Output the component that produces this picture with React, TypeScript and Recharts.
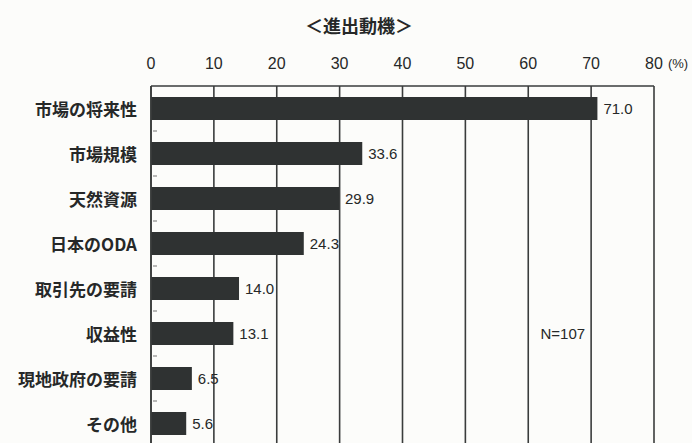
import { BarChart, Bar, XAxis, YAxis, CartesianGrid, LabelList, ReferenceDot, Customized } from "recharts";

const categories = ["市場の将来性", "市場規模", "天然資源", "日本のODA", "取引先の要請", "収益性", "現地政府の要請", "その他"];
const shares = [71.0, 33.6, 29.9, 24.3, 14.0, 13.1, 6.5, 5.6];
const xTicks = [0, 10, 20, 30, 40, 50, 60, 70, 80];
const chartTitle = "＜進出動機＞";
const unitLabel = "(%)";
const sampleNote = "N=107";

const data = categories.map((name, i) => ({ name, value: shares[i] }));

const INK = "#262828";
const LINE = "#3a3c3c";
const NARROW = '"Liberation Sans Narrow", "Arial Narrow", "Liberation Sans", sans-serif';
const JP = '"Noto Sans CJK JP", "Noto Sans", sans-serif';

// category label plus a short inward mark on the axis between bands
function CategoryTick(props: any) {
  const { x, y, payload, index } = props;
  const half = payload?.offset ?? 22;
  const axisX = x + 14;
  return (
    <g>
      <text x={x} y={y} textAnchor="end" dominantBaseline="central" fill={INK} fontFamily={JP} fontWeight={700} fontSize={17}>
        {payload.value}
      </text>
      {index < categories.length - 1 && (
        <line x1={axisX + 2} x2={axisX + 6} y1={y + half} y2={y + half} stroke="#8a8a8a" strokeWidth={1.2} />
      )}
    </g>
  );
}

function Extras() {
  return (
    <g>
      <text x={359} y={25} textAnchor="middle" dominantBaseline="central" fill={INK} fontFamily={JP} fontWeight={700} fontSize={18}>
        {chartTitle}
      </text>
      <text x={678} y={63} textAnchor="middle" dominantBaseline="central" fill={INK} fontFamily={NARROW} fontSize={13}>
        {unitLabel}
      </text>
    </g>
  );
}

export default function App() {
  return (
    <div style={{ position: "absolute", left: 0, top: 0, width: 692, height: 443, overflow: "hidden", background: "#fcfcfa" }}>
      <BarChart
        width={692}
        height={460}
        data={data}
        layout="vertical"
        margin={{ top: 56, right: 38, left: 11, bottom: 14 }}
      >
        <CartesianGrid horizontal={false} stroke={LINE} strokeWidth={1.6} />
        <XAxis
          type="number"
          orientation="top"
          domain={[0, 80]}
          ticks={xTicks}
          height={30}
          tickLine={false}
          tickMargin={11}
          axisLine={{ stroke: LINE, strokeWidth: 1.6 }}
          tick={{ fill: INK, fontFamily: NARROW, fontSize: 16 }}
        />
        <YAxis
          type="category"
          dataKey="name"
          width={140}
          tickLine={false}
          tickMargin={8}
          axisLine={{ stroke: LINE, strokeWidth: 1.6 }}
          tick={<CategoryTick />}
          interval={0}
        />
        <Bar dataKey="value" fill="#2f3232" barSize={23} isAnimationActive={false}>
          <LabelList
            dataKey="value"
            position="right"
            offset={6}
            formatter={(v: any) => Number(v).toFixed(1)}
            style={{ fill: INK, fontFamily: NARROW, fontSize: 15 }}
          />
        </Bar>
        <ReferenceDot
          x={65.5}
          y="収益性"
          r={0}
          fill="none"
          stroke="none"
          label={{ value: sampleNote, position: "center", fill: INK, fontFamily: NARROW, fontSize: 15 }}
        />
        <Customized component={Extras} />
      </BarChart>
    </div>
  );
}
